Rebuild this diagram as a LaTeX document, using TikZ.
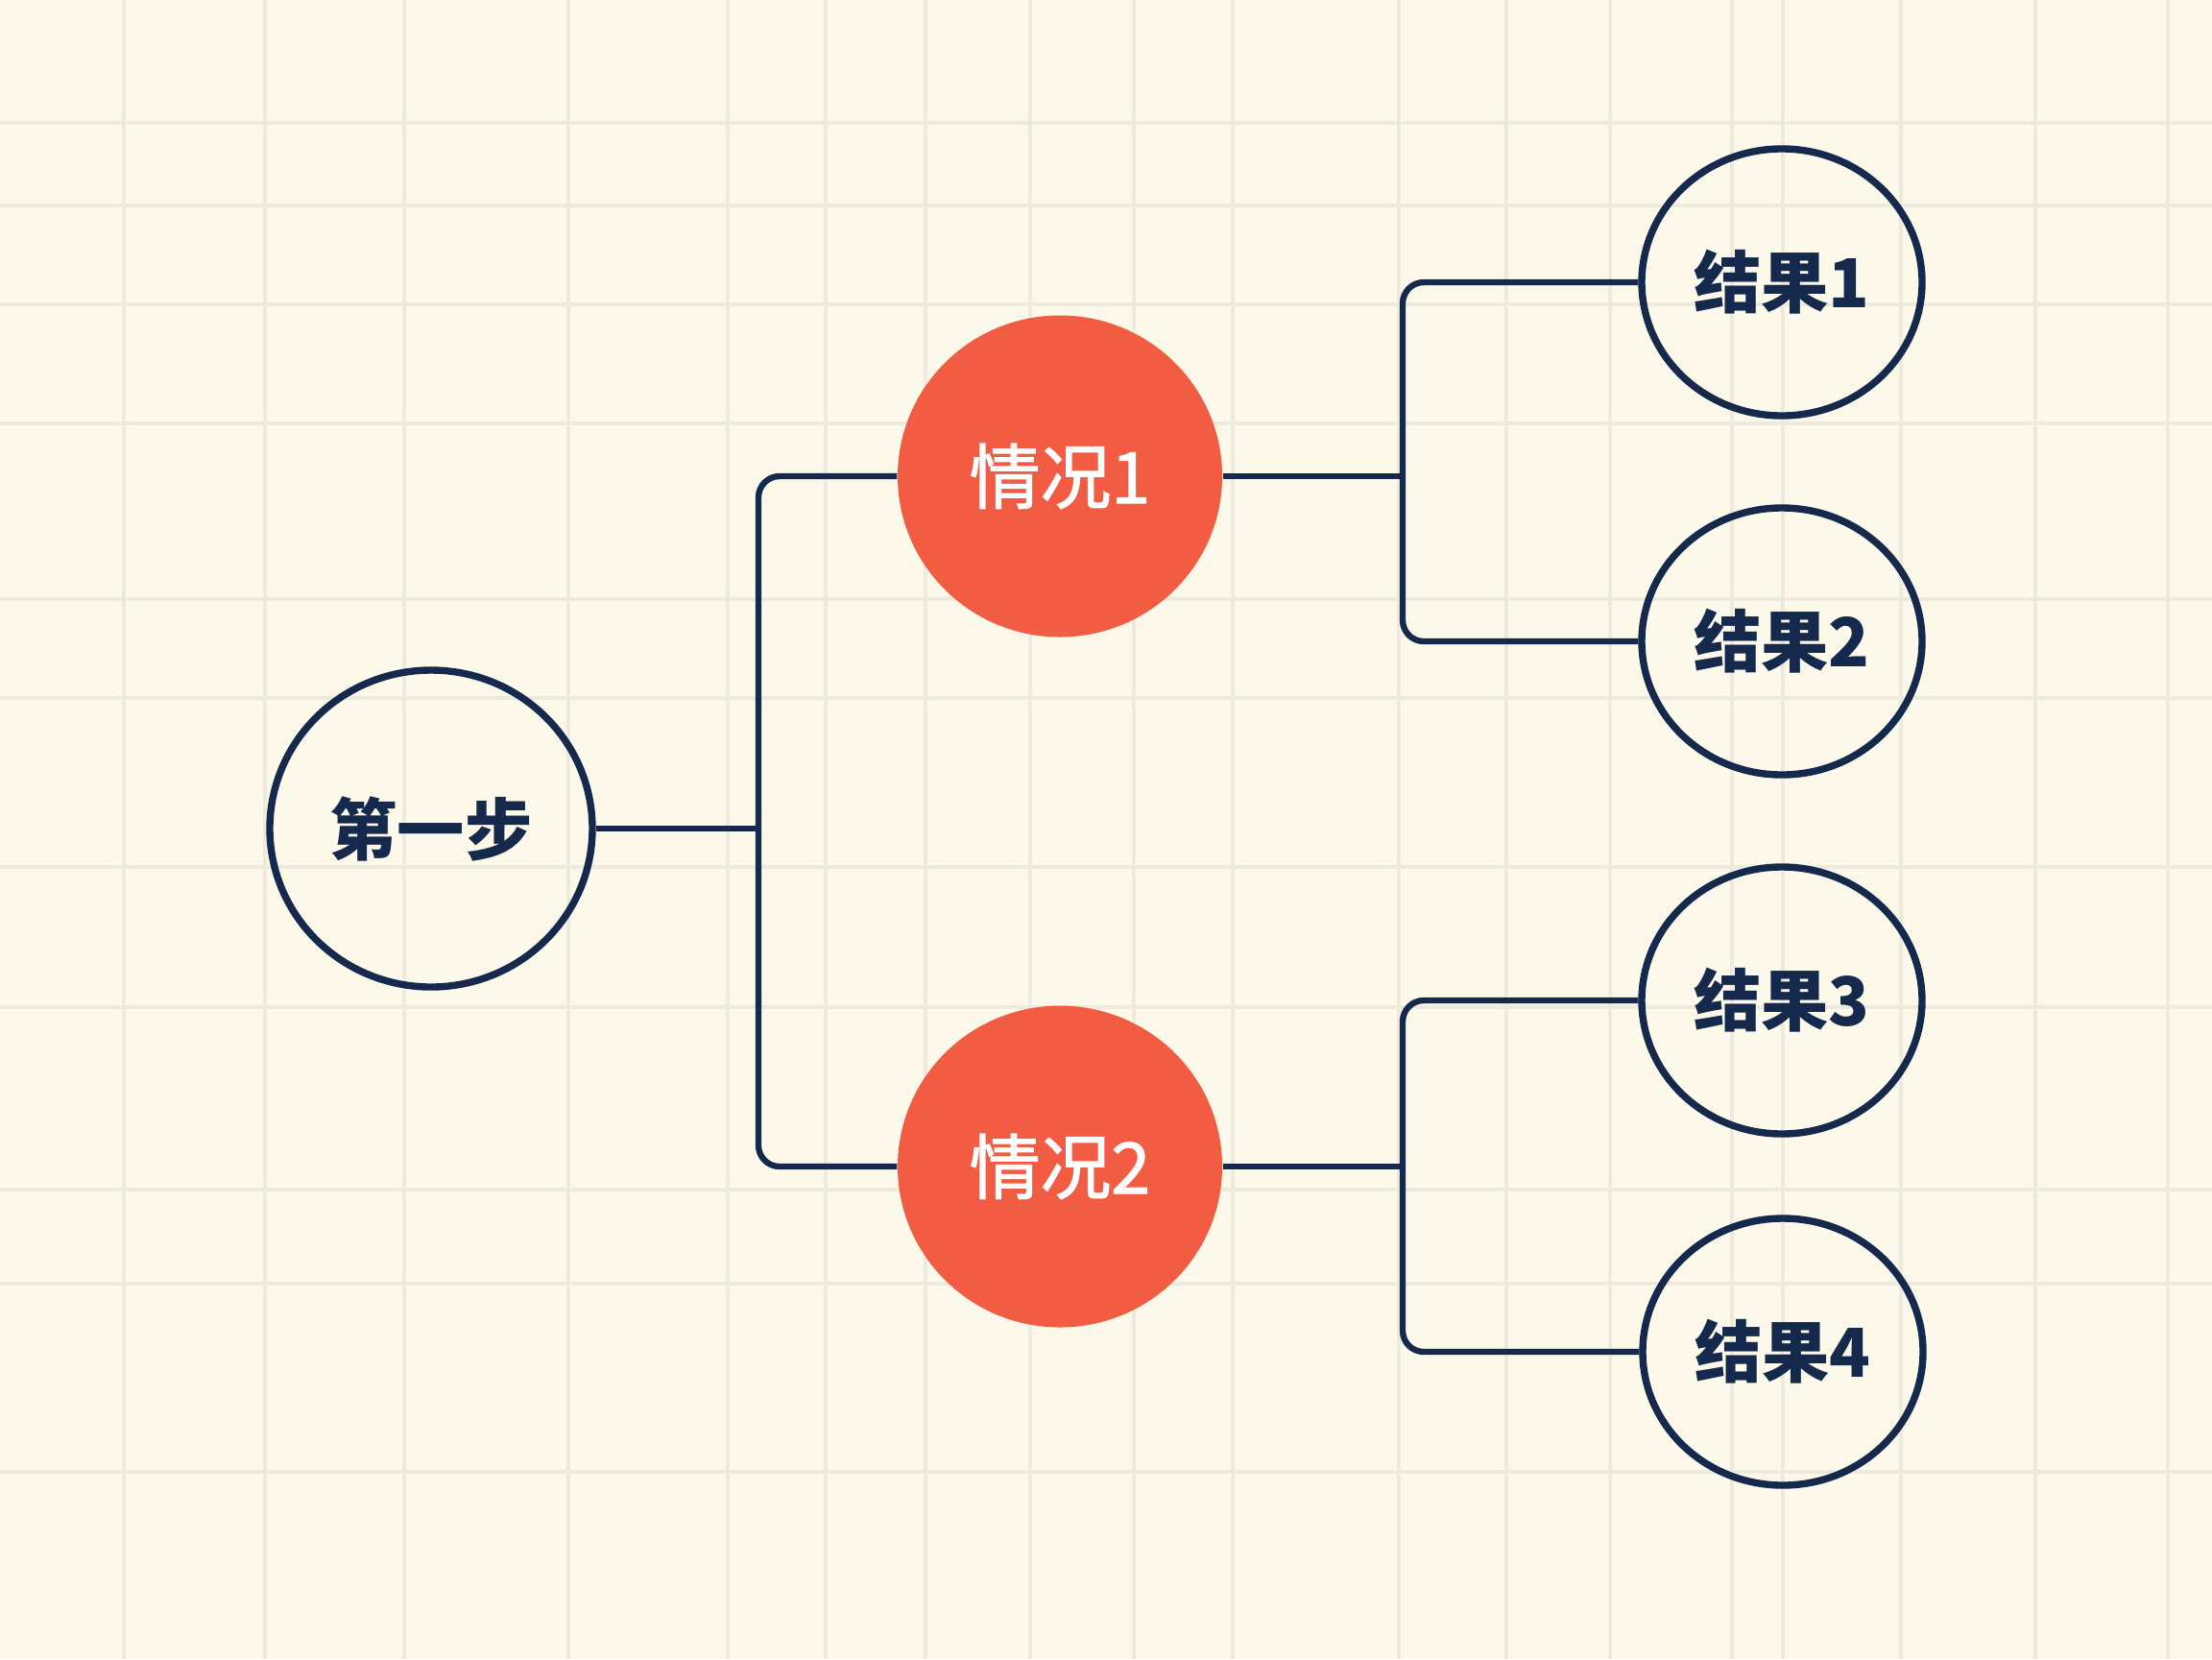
\documentclass[tikz,border=0pt]{standalone}
\usepackage{fontspec}
\newfontfamily\cjk{Noto Sans CJK SC}
\newfontfamily\cjkmid[FakeBold=1.6]{Noto Sans CJK SC}
\usetikzlibrary{shapes.geometric}
\definecolor{paper}{HTML}{FCF9EB}
\definecolor{rule}{HTML}{EEEADD}
\definecolor{ink}{HTML}{14294C}
\definecolor{tomato}{HTML}{F25C43}

\begin{document}
\begin{tikzpicture}[
		every node/.style={inner sep=0pt},
		outline/.style={ellipse, draw=ink, line width=2.1pt, text=ink, font=\cjk\bfseries\fontsize{20}{24}\selectfont},
		case/.style={ellipse, fill=tomato, text=white, minimum width=3.38cm, minimum height=3.35cm, font=\cjkmid\fontsize{21}{24}\selectfont},
		result/.style={outline, minimum width=2.92cm, minimum height=2.78cm},
		link/.style={draw=ink, line width=1.8pt, rounded corners=0.22cm}]
			\useasboundingbox (0,0) rectangle (23.04,-17.28);
			\fill [paper] (0,0) rectangle (23.04,-17.28);
			% squared paper
			\foreach \x in {1.29,2.76,4.21,5.92,7.58,8.60,9.64,10.73,11.81,12.84,14.57,15.69,16.77,18.04,18.57,19.80,21.20,22.58}
				\draw [rule, line width=0.9pt] (\x,0) -- (\x,-17.28);
			\foreach \y in {1.28,2.14,3.17,4.41,6.24,7.27,9.03,10.49,12.39,13.37,15.33}
				\draw [rule, line width=0.9pt] (0,-\y) -- (23.04,-\y);
			% nodes
			\node [outline, minimum width=3.36cm, minimum height=3.30cm] (step) at (4.49,-8.63) {第一步};
			\node [case] (case1) at (11.04,-4.96) {情况1};
			\node [case] (case2) at (11.04,-12.15) {情况2};
			\node [result] (res1) at (18.56,-2.94) {结果1};
			\node [result] (res2) at (18.56,-6.68) {结果2};
			\node [result] (res3) at (18.56,-10.42) {结果3};
			\node [result] (res4) at (18.57,-14.08) {结果4};
			\coordinate (split) at (7.90,-8.63);
			\coordinate (split1) at (14.61,-4.96);
			\coordinate (split2) at (14.61,-12.15);
			% brackets
			\draw [link] (step.east) -- (split);
			\draw [link] (case1.west) -| (split) |- (case2.west);
			\draw [link] (case1.east) -- (split1);
			\draw [link] (res1.west) -| (split1) |- (res2.west);
			\draw [link] (case2.east) -- (split2);
			\draw [link] (res3.west) -| (split2) |- (res4.west);
		\end{tikzpicture}
\end{document}
